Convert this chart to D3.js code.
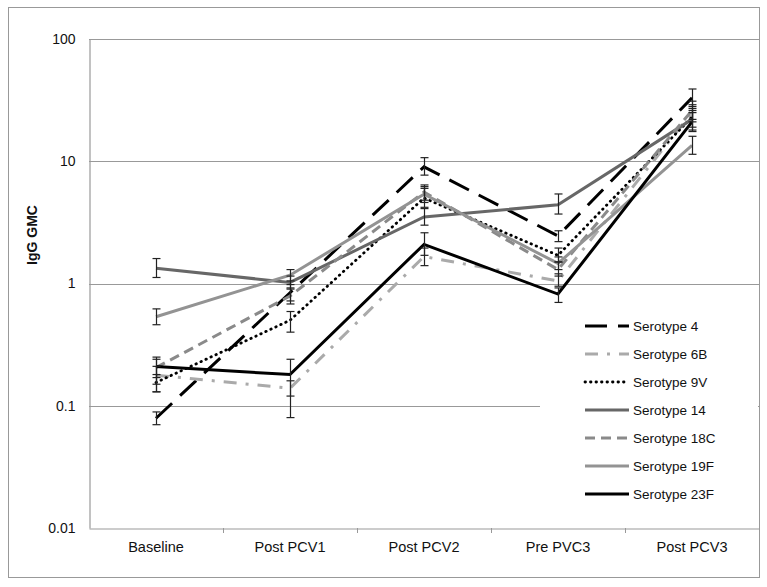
<!DOCTYPE html>
<html><head><meta charset="utf-8">
<script src="https://cdn.jsdelivr.net/npm/d3@7"></script>
<style>body{margin:0;background:#fff}svg{display:block}</style>
</head><body>
<script>
const categories = ["Baseline","Post PCV1","Post PCV2","Pre PVC3","Post PCV3"];
const yTicks = [0.01, 0.1, 1, 10, 100];
const seriesNames = ["Serotype 4","Serotype 6B","Serotype 9V","Serotype 14","Serotype 18C","Serotype 19F","Serotype 23F"];
const s4    = [0.079, 0.84, 9.0, 2.45, 33];
const s4Lo  = [0.070, 0.72, 7.7, 2.2, 28];
const s4Hi  = [0.089, 0.98, 10.7, 2.7, 39];
const s6B   = [0.178, 0.139, 1.66, 1.05, 25];
const s6BLo = [0.15, 0.12, 1.4, 0.95, 21];
const s6BHi = [0.21, 0.16, 1.95, 1.2, 29];
const s9V   = [0.155, 0.50, 5.0, 1.7, 23];
const s9VLo = [0.13, 0.40, 4.2, 1.5, 19];
const s9VHi = [0.18, 0.59, 6.0, 1.95, 27];
const s14   = [1.33, 1.02, 3.5, 4.4, 22];
const s14Lo = [1.12, 0.9, 3.0, 3.7, 18];
const s14Hi = [1.6, 1.15, 4.1, 5.4, 26];
const s18C  = [0.205, 0.79, 5.6, 1.3, 26];
const s18CLo= [0.17, 0.68, 4.8, 1.15, 22];
const s18CHi= [0.25, 0.92, 6.4, 1.5, 31];
const s19F  = [0.535, 1.17, 5.37, 1.46, 13.5];
const s19FLo= [0.46, 1.05, 4.6, 1.3, 11.4];
const s19FHi= [0.62, 1.3, 6.2, 1.65, 16];
const s23F  = [0.209, 0.18, 2.09, 0.82, 21];
const s23FLo= [0.13, 0.08, 1.7, 0.7, 17.5];
const s23FHi= [0.24, 0.24, 2.6, 0.92, 25];

const series = [
  {name: seriesNames[0], v: s4,  lo: s4Lo,  hi: s4Hi,  color: "#000", dash: "22,11", w: 3, cap: "butt"},
  {name: seriesNames[1], v: s6B, lo: s6BLo, hi: s6BHi, color: "#aaa", dash: "13,9,3,9", w: 3, cap: "butt"},
  {name: seriesNames[2], v: s9V, lo: s9VLo, hi: s9VHi, color: "#000", dash: "0.5,5", w: 2.8, cap: "round"},
  {name: seriesNames[3], v: s14, lo: s14Lo, hi: s14Hi, color: "#676767", dash: null, w: 3, cap: "butt"},
  {name: seriesNames[4], v: s18C,lo: s18CLo,hi: s18CHi,color: "#8a8a8a", dash: "10,6", w: 3, cap: "butt"},
  {name: seriesNames[5], v: s19F,lo: s19FLo,hi: s19FHi,color: "#939393", dash: null, w: 3, cap: "butt"},
  {name: seriesNames[6], v: s23F,lo: s23FLo,hi: s23FHi,color: "#000", dash: null, w: 3, cap: "butt"}
];

const W = 767, H = 587;
const svg = d3.select("body").append("svg").attr("width", W).attr("height", H);
const font = "'Liberation Sans', Arial, sans-serif";

svg.append("rect").attr("x", 8.5).attr("y", 7.5).attr("width", 751).attr("height", 570)
  .attr("fill", "#fff").attr("stroke", "#999").attr("stroke-width", 1);

const L = 89, R = 759, T = 39, B = 528;
const x = d3.scaleBand().domain(categories).range([L, R]);
const y = d3.scaleLog().domain([0.01, 100]).range([B, T]);
const cx = c => x(c) + x.bandwidth() / 2;

// gridlines
svg.append("g").selectAll("line").data(yTicks.slice(1)).join("line")
  .attr("x1", L).attr("x2", R).attr("y1", d => Math.round(y(d)) + 0.5).attr("y2", d => Math.round(y(d)) + 0.5)
  .attr("stroke", "#999").attr("stroke-width", 1.2);

// y axis
const yAxis = d3.axisLeft(y).tickValues(yTicks).tickFormat(d => String(d)).tickSize(0).tickPadding(14);
const gy = svg.append("g").attr("transform", `translate(${L+0.5},0)`).call(yAxis);
gy.select(".domain").attr("stroke", "#999").attr("stroke-width", 1.2);
gy.selectAll("text").attr("font-family", font).attr("font-size", 14).attr("fill", "#111");

// x axis
const xAxis = d3.axisBottom(x).tickSize(0).tickPadding(13);
const gx = svg.append("g").attr("transform", `translate(0,${B+0.5})`).call(xAxis);
gx.select(".domain").attr("stroke", "#999").attr("stroke-width", 1.2);
gx.selectAll("text").attr("font-family", font).attr("font-size", 14.5).attr("fill", "#111");
// boundary ticks between categories
svg.append("g").selectAll("line").data(categories.slice(1)).join("line")
  .attr("x1", d => Math.round(x(d)) + 0.5).attr("x2", d => Math.round(x(d)) + 0.5)
  .attr("y1", B).attr("y2", B + 5).attr("stroke", "#999").attr("stroke-width", 1);

// y title
svg.append("text").attr("transform", `translate(37,235) rotate(-90)`)
  .attr("text-anchor", "middle").attr("font-family", font).attr("font-size", 14)
  .attr("font-weight", "bold").attr("fill", "#111").text("IgG GMC");

// legend background
svg.append("rect").attr("x", 540).attr("y", 312).attr("width", 218).attr("height", 196).attr("fill", "#fff");

const line = d3.line().x((d, i) => cx(categories[i])).y(d => y(d));
const plot = svg.append("g");
series.forEach(s => {
  plot.append("path").datum(s.v).attr("d", line).attr("fill", "none")
    .attr("stroke", s.color).attr("stroke-width", s.w)
    .attr("stroke-dasharray", s.dash).attr("stroke-linecap", s.cap).attr("stroke-linejoin", "miter");
});
// error bars
series.forEach(s => {
  const g = plot.append("g").attr("stroke", "#222").attr("stroke-width", 1.2);
  categories.forEach((c, i) => {
    const xx = Math.round(cx(c)) + 0.5;
    g.append("line").attr("x1", xx).attr("x2", xx).attr("y1", y(s.lo[i])).attr("y2", y(s.hi[i]));
    g.append("line").attr("x1", xx - 4).attr("x2", xx + 4).attr("y1", y(s.lo[i])).attr("y2", y(s.lo[i]));
    g.append("line").attr("x1", xx - 4).attr("x2", xx + 4).attr("y1", y(s.hi[i])).attr("y2", y(s.hi[i]));
  });
});

// legend
const lg = svg.append("g");
series.forEach((s, i) => {
  const yy = 326 + i * 28;
  lg.append("line").attr("x1", 585).attr("x2", 629).attr("y1", yy).attr("y2", yy)
    .attr("stroke", s.color).attr("stroke-width", s.w).attr("stroke-dasharray", s.dash).attr("stroke-linecap", s.cap);
  lg.append("text").attr("x", 633).attr("y", yy + 5).attr("font-family", font).attr("font-size", 13.5)
    .attr("fill", "#111").text(s.name);
});
</script>
</body></html>
